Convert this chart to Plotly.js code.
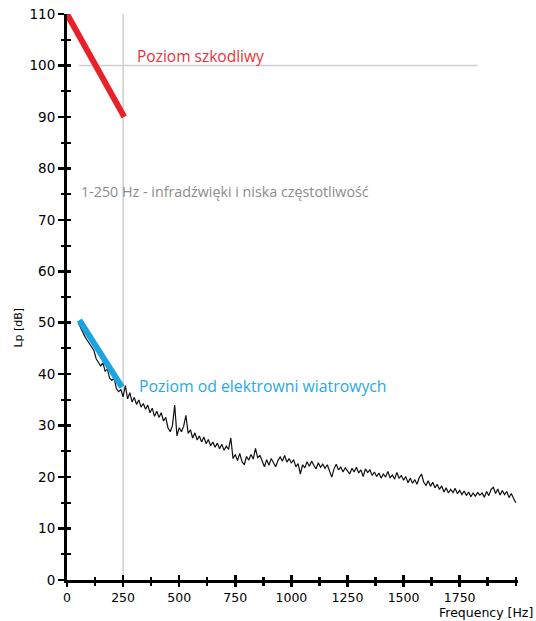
<!DOCTYPE html>
<html>
<head>
<meta charset="utf-8">
<script src="https://cdn.plot.ly/plotly-3.0.1.min.js"></script>
<style>html,body{margin:0;padding:0;background:#fff;}#chart{width:536px;height:621px;}</style>
</head>
<body>
<div id="chart"></div>
<script>
// Measured spectrum (Hz, dB)
const freq = [
  50,60,70,80,90,100,110,120,130,140,
  150,160,170,180,190,200,210,220,230,240,
  250,260,270,280,290,300,310,320,330,340,
  350,360,370,380,390,400,410,420,430,440,
  450,460,470,480,490,500,510,520,530,540,
  550,560,570,580,590,600,610,620,630,640,
  650,660,670,680,690,700,710,720,730,740,
  750,760,770,780,790,800,810,820,830,840,
  850,860,870,880,890,900,910,920,930,940,
  950,960,970,980,990,1000,1010,1020,1030,1040,
  1050,1060,1070,1080,1090,1100,1110,1120,1130,1140,
  1150,1160,1170,1180,1190,1200,1210,1220,1230,1240,
  1250,1260,1270,1280,1290,1300,1310,1320,1330,1340,
  1350,1360,1370,1380,1390,1400,1410,1420,1430,1440,
  1450,1460,1470,1480,1490,1500,1510,1520,1530,1540,
  1550,1560,1570,1580,1590,1600,1610,1620,1630,1640,
  1650,1660,1670,1680,1690,1700,1710,1720,1730,1740,
  1750,1760,1770,1780,1790,1800,1810,1820,1830,1840,
  1850,1860,1870,1880,1890,1900,1910,1920,1930,1940,
  1950,1960,1970,1980,1990,2000
];
const level = [
  50.0,49.0,48.2,47.3,46.6,46.0,45.2,44.6,43.0,42.4,
  41.6,42.2,40.6,41.0,39.2,38.8,39.3,37.2,36.6,37.0,
  35.6,37.8,35.2,36.4,34.6,35.5,34.1,35.0,33.6,34.3,
  33.2,34.0,32.5,33.4,31.8,32.8,31.6,32.5,30.9,31.6,
  29.6,28.8,30.0,34.0,28.0,29.6,28.8,29.9,32.0,28.5,
  29.2,27.6,28.6,27.2,28.0,26.8,27.8,26.5,27.3,26.1,
  26.8,25.8,26.6,25.5,26.4,25.2,26.0,25.4,27.6,23.6,
  24.4,23.2,24.6,23.0,22.4,24.0,23.3,24.4,23.5,25.6,
  23.8,24.2,23.0,22.0,23.4,22.3,23.6,22.8,22.0,23.2,
  23.9,23.1,24.2,22.9,23.6,22.7,23.4,22.0,22.6,20.6,
  22.4,21.8,23.0,22.1,23.1,22.3,21.6,22.8,21.9,22.5,
  21.7,22.4,21.2,20.0,21.6,22.5,21.4,22.0,21.0,21.8,
  21.2,20.6,21.7,21.0,21.9,20.8,21.4,20.1,21.6,20.9,
  21.4,20.3,21.0,20.1,20.8,19.8,20.6,20.0,21.1,19.9,
  20.4,19.6,20.9,19.8,20.3,19.4,20.1,18.9,19.8,18.8,
  19.5,18.6,19.9,20.6,19.0,18.4,19.3,18.2,19.0,17.9,
  18.6,17.6,18.3,17.1,17.9,16.9,17.6,17.0,17.8,16.8,
  17.4,16.6,17.3,16.4,17.1,16.2,16.9,16.3,17.0,16.5,
  16.9,16.1,17.2,16.4,17.6,18.0,16.8,17.7,16.5,17.4,
  16.6,17.2,16.0,16.8,15.9,15.0
];
// Harmful level line
const harmfulFreq = [0, 255];
const harmfulLevel = [110, 90];
// Wind farm level line
const windFreq = [55, 245];
const windLevel = [50.5, 37.5];
// Reference guides
const bandFreq = [250, 250];
const bandLevel = [0, 110];
const refFreq = [53, 1830];
const refLevel = [100, 100];
// Tick labels
const xTicks = [0,250,500,750,1000,1250,1500,1750];
const yTicks = [0,10,20,30,40,50,60,70,80,90,100,110];
const labels = {
  harmful: 'Poziom szkodliwy',
  band: '1-250 Hz - infradźwięki i niska częstotliwość',
  wind: 'Poziom od elektrowni wiatrowych',
  xTitle: 'Frequency [Hz]',
  yTitle: 'Lp [dB]'
};

const traces = [
  {x: bandFreq, y: bandLevel, mode: 'lines', line: {color: '#cfcfcf', width: 1.5}, hoverinfo: 'skip', showlegend: false},
  {x: refFreq, y: refLevel, mode: 'lines', line: {color: '#cfcfcf', width: 1.5}, hoverinfo: 'skip', showlegend: false},
  {x: freq, y: level, mode: 'lines', line: {color: '#111111', width: 1.2}, showlegend: false},
  {x: harmfulFreq, y: harmfulLevel, mode: 'lines', line: {color: '#e8202a', width: 6}, showlegend: false},
  {x: windFreq, y: windLevel, mode: 'lines', line: {color: '#1ca3e2', width: 6}, showlegend: false},
  {x: [0], y: [0], xaxis: 'x2', yaxis: 'y2', mode: 'markers', marker: {opacity: 0}, hoverinfo: 'skip', showlegend: false}
];

const XR = [0, 2010], YR = [0, 110];
const font = 'DejaVu Sans, sans-serif';
const tf = 'Open Sans, sans-serif';

const layout = {
  width: 536, height: 621,
  margin: {l: 67, r: 18, t: 14, b: 41},
  paper_bgcolor: '#fff', plot_bgcolor: '#fff',
  xaxis: {
    range: XR, showgrid: false, zeroline: false,
    showline: true, linecolor: '#000', linewidth: 3,
    tickmode: 'array', tickvals: xTicks, ticktext: xTicks.map(String),
    ticks: 'outside', ticklen: 4, tickwidth: 2.5, tickcolor: '#000',
    tickfont: {family: font, size: 12.5, color: '#000'},
    minor: {dtick: 125, tick0: 125, ticks: 'outside', ticklen: 3, tickwidth: 2.5, tickcolor: '#000', showgrid: false}
  },
  yaxis: {
    range: YR, showgrid: false, zeroline: false,
    showline: true, linecolor: '#000', linewidth: 3,
    tickmode: 'array', tickvals: yTicks, ticktext: yTicks.map(String),
    ticks: 'outside', ticklen: 6, tickwidth: 2.5, tickcolor: '#000',
    tickfont: {family: font, size: 13.5, color: '#000'},
    minor: {dtick: 5, tick0: 5, ticks: 'outside', ticklen: 3, tickwidth: 2, tickcolor: '#000', showgrid: false}
  },
  xaxis2: {
    overlaying: 'x', anchor: 'y2', range: XR, showgrid: false, zeroline: false,
    showline: false, showticklabels: false,
    tickmode: 'array', tickvals: xTicks,
    ticks: 'inside', ticklen: 5, tickwidth: 2.5, tickcolor: '#000',
    minor: {dtick: 125, tick0: 125, ticks: 'inside', ticklen: 3, tickwidth: 2.5, tickcolor: '#000', showgrid: false}
  },
  yaxis2: {
    overlaying: 'y', anchor: 'x2', range: YR, showgrid: false, zeroline: false,
    showline: false, showticklabels: false,
    tickmode: 'array', tickvals: yTicks,
    ticks: 'inside', ticklen: 4, tickwidth: 2.5, tickcolor: '#000',
    minor: {dtick: 5, tick0: 5, ticks: 'inside', ticklen: 4, tickwidth: 2, tickcolor: '#000', showgrid: false}
  },
  annotations: [
    {x: 305, y: 101.9, xref: 'x', yref: 'y', text: labels.harmful, showarrow: false, xanchor: 'left', yanchor: 'middle',
     font: {family: tf, size: 15.5, color: '#e8323c'}},
    {x: 55, y: 75.6, xref: 'x', yref: 'y', text: labels.band, showarrow: false, xanchor: 'left', yanchor: 'middle',
     font: {family: tf, size: 14.3, color: '#8c8c8c'}},
    {x: 312, y: 37.8, xref: 'x', yref: 'y', text: labels.wind, showarrow: false, xanchor: 'left', yanchor: 'middle',
     font: {family: tf, size: 15.8, color: '#2aa8e2'}},
    {x: 1.0377, y: -0.0574, xref: 'paper', yref: 'paper', text: labels.xTitle, showarrow: false, xanchor: 'right', yanchor: 'middle',
     font: {family: font, size: 12.5, color: '#000'}},
    {x: -0.1064, y: 0.446, xref: 'paper', yref: 'paper', text: labels.yTitle, showarrow: false, textangle: -90,
     xanchor: 'center', yanchor: 'middle', font: {family: font, size: 11, color: '#000'}}
  ]
};

Plotly.newPlot('chart', traces, layout, {staticPlot: true, displayModeBar: false});
</script>
</body>
</html>
